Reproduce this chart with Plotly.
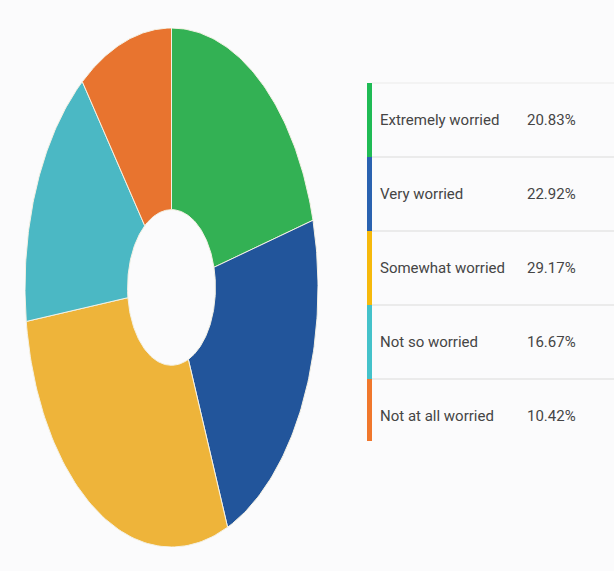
import numpy as np
import plotly.graph_objects as go

# ---- data ----
labels = ["Extremely worried", "Very worried", "Somewhat worried", "Not so worried", "Not at all worried"]
percents = [20.83, 22.92, 29.17, 16.67, 10.42]
slice_colors = ["#33b154", "#22559b", "#eeb43a", "#4bb8c4", "#e8742f"]
bar_colors = ["#1fbb55", "#2a62b0", "#f6b90c", "#44c2ca", "#f0772c"]

W, H = 614, 571
HOLE = 0.30

fig = go.Figure()

# donut slices, clockwise from 12 o'clock (ellipse via unequal axis scaling)
total = sum(percents)
start = 0.0
for lab, val, col in zip(labels, percents, slice_colors):
    a0 = start / total * 2 * np.pi
    a1 = (start + val) / total * 2 * np.pi
    t = np.linspace(a0, a1, 80)
    xo, yo = np.sin(t), np.cos(t)
    xi, yi = HOLE * np.sin(t[::-1]), HOLE * np.cos(t[::-1])
    xs = np.concatenate([xo, xi, xo[:1]])
    ys = np.concatenate([yo, yi, yo[:1]])
    fig.add_trace(go.Scatter(x=xs, y=ys, fill="toself", fillcolor=col, mode="lines",
                             line=dict(color="#f4f1e4", width=1), name=lab,
                             hoverinfo="name", showlegend=False))
    start += val

def px(x):
    return x / W

def py(y):
    return 1 - y / H

fig.update_layout(
    width=W, height=H,
    margin=dict(l=0, r=0, t=0, b=0),
    paper_bgcolor="#fbfbfc", plot_bgcolor="rgba(0,0,0,0)",
    xaxis=dict(domain=[px(25), px(318)], range=[-1, 1], visible=False, fixedrange=True),
    yaxis=dict(domain=[py(547), py(28)], range=[-1, 1], visible=False, fixedrange=True),
    showlegend=False,
)

# legend table
row_top, row_h = 83, 74
shapes = []
annotations = []
font = dict(family="Roboto, sans-serif", size=15, color="#454545")
for i, (lab, val, bc) in enumerate(zip(labels, percents, bar_colors)):
    top = row_top + i * row_h
    bot = top + row_h if i < len(labels) - 1 else top + 62
    shapes.append(dict(type="rect", xref="paper", yref="paper",
                       x0=px(367), x1=px(372), y0=py(bot), y1=py(top),
                       fillcolor=bc, line=dict(width=0), layer="above"))
    shapes.append(dict(type="line", xref="paper", yref="paper",
                       x0=px(372), x1=1, y0=py(top), y1=py(top),
                       line=dict(color="#e6e6e6" if i else "#f0f0f0", width=1.5)))
    cy = py(top + row_h / 2)
    annotations.append(dict(xref="paper", yref="paper", x=px(378), y=cy, text=lab,
                            showarrow=False, xanchor="left", yanchor="middle", font=font))
    annotations.append(dict(xref="paper", yref="paper", x=px(525), y=cy, text=f"{val:.2f}%",
                            showarrow=False, xanchor="left", yanchor="middle", font=font))

fig.update_layout(shapes=shapes, annotations=annotations)
fig.write_html("out.html", config={"displayModeBar": False},
               post_script="document.body.style.margin='0';document.body.style.background='#fbfbfc';")
